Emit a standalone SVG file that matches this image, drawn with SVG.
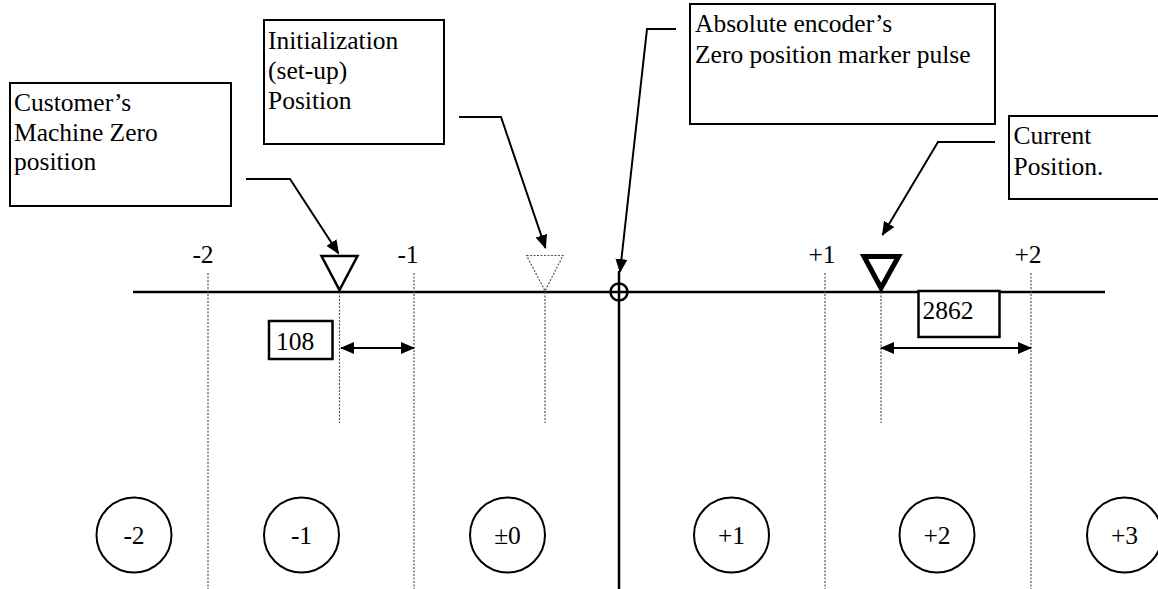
<svg xmlns="http://www.w3.org/2000/svg" width="1158" height="589" viewBox="0 0 1158 589">
<style>
text{font-family:"Liberation Serif","Times New Roman",serif;font-size:25.5px;fill:#000}
.box{fill:#fff;stroke:#000;stroke-width:2}
.lead{fill:none;stroke:#000;stroke-width:2}
.dot{stroke:#555;stroke-width:1.2;stroke-dasharray:2 1.5;fill:none}
.axis{stroke:#000;stroke-width:2.5;fill:none}
.sec{fill:#fff;stroke:#000;stroke-width:2}
.num{text-anchor:middle}
</style>
<defs>
<marker id="ah" viewBox="0 0 14 12" refX="13" refY="6" markerWidth="14" markerHeight="12" markerUnits="userSpaceOnUse" orient="auto-start-reverse">
<path d="M0,0 L14,6 L0,12 Z" fill="#000"/>
</marker>
</defs>
<rect width="1158" height="589" fill="#fff"/>

<g id="axis">
<line class="axis" x1="133" y1="292" x2="1105" y2="292"/>
</g>

<g id="ticks">
<line class="dot" x1="208" y1="273" x2="208" y2="589"/>
<line class="dot" x1="414" y1="273" x2="414" y2="589"/>
<line class="dot" x1="825" y1="273" x2="825" y2="589"/>
<line class="dot" x1="1031" y1="273" x2="1031" y2="589"/>
<line class="dot" x1="339.5" y1="292" x2="339.5" y2="423"/>
<line class="dot" x1="545" y1="292" x2="545" y2="423"/>
<line class="dot" x1="881" y1="292" x2="881" y2="423"/>
<text class="num" x="203" y="263">-2</text>
<text class="num" x="408" y="263">-1</text>
<text class="num" x="822" y="263">+1</text>
<text class="num" x="1028" y="263">+2</text>
</g>

<g id="customer-marker">
<path d="M321.5,256 L357.5,256 L339.5,290 Z" fill="#fff" stroke="#000" stroke-width="2.5" stroke-linejoin="miter"/>
</g>
<g id="init-marker">
<path d="M526.5,255.5 L563,255.5 L545,291 Z" fill="none" stroke="#555" stroke-width="1.2" stroke-dasharray="2 1.5"/>
</g>
<g id="current-marker">
<path d="M864,256.5 L898.5,256.5 L881,288 Z" fill="#fff" stroke="#000" stroke-width="5" stroke-linejoin="miter"/>
</g>
<g id="zero-marker">
<line x1="619" y1="271" x2="619" y2="589" stroke="#000" stroke-width="2.5"/>
<circle cx="619" cy="292" r="8.5" fill="none" stroke="#000" stroke-width="2.5"/>
</g>

<g id="box-customer">
<rect class="box" x="10" y="83" width="221" height="123"/>
<text x="14" y="111">Customer’s</text>
<text x="14" y="141">Machine Zero</text>
<text x="14" y="170">position</text>
</g>
<g id="box-init">
<rect class="box" x="264" y="20" width="180" height="124"/>
<text x="268" y="49">Initialization</text>
<text x="268" y="79">(set-up)</text>
<text x="268" y="109">Position</text>
</g>
<g id="box-absolute">
<rect class="box" x="690" y="4" width="305" height="120"/>
<text x="695" y="32">Absolute encoder’s</text>
<text x="695" y="63">Zero position marker pulse</text>
</g>
<g id="box-current">
<rect class="box" x="1009" y="116" width="160" height="83"/>
<text x="1013.5" y="144">Current</text>
<text x="1013.5" y="175">Position.</text>
</g>

<g id="dim-108">
<rect x="269" y="321" width="63.5" height="38" fill="#fff" stroke="#000" stroke-width="2.5"/>
<text x="276" y="350">108</text>
</g>
<g id="dim-2862">
<rect x="918.5" y="291" width="81" height="46" fill="#fff" stroke="#000" stroke-width="2.5"/>
<text x="922.5" y="319">2862</text>
</g>

<g id="sections">
<g id="sec-m2"><circle class="sec" cx="134" cy="535" r="37.5"/><text class="num" x="134" y="544">-2</text></g>
<g id="sec-m1"><circle class="sec" cx="301.5" cy="535" r="37.5"/><text class="num" x="301.5" y="544">-1</text></g>
<g id="sec-0"><circle class="sec" cx="507.5" cy="535" r="37.5"/><text class="num" x="507.5" y="544">±0</text></g>
<g id="sec-p1"><circle class="sec" cx="731.5" cy="535" r="37.5"/><text class="num" x="731.5" y="544">+1</text></g>
<g id="sec-p2"><circle class="sec" cx="937" cy="535" r="37.5"/><text class="num" x="937" y="544">+2</text></g>
<g id="sec-p3"><circle class="sec" cx="1124.5" cy="535" r="37.5"/><text class="num" x="1124.5" y="544">+3</text></g>
</g>

<g id="connectors">
<polyline class="lead" points="246,179 290,179 338.5,253.5" marker-end="url(#ah)"/>
<polyline class="lead" points="459,117 501,117 545.5,248" marker-end="url(#ah)"/>
<polyline class="lead" points="676,29 647,29 620,272" marker-end="url(#ah)"/>
<polyline class="lead" points="995,142 938,142 882.5,235" marker-end="url(#ah)"/>
<line class="lead" x1="341" y1="348" x2="414" y2="348" marker-start="url(#ah)" marker-end="url(#ah)"/>
<line class="lead" x1="881" y1="348" x2="1031" y2="348" marker-start="url(#ah)" marker-end="url(#ah)"/>
</g>
</svg>
